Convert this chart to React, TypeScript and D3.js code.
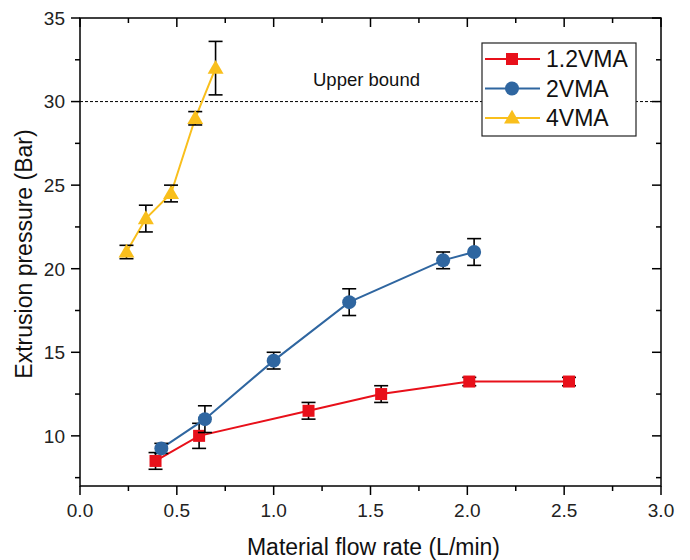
import React from 'react';
import * as d3 from 'd3';

// flow rate (L/min), pressure (Bar), error (±)
const flow12 = [0.39, 0.615, 1.18, 1.555, 2.01, 2.525];
const pres12 = [8.5, 10.0, 11.5, 12.5, 13.25, 13.25];
const err12 = [0.5, 0.75, 0.5, 0.5, 0.25, 0.25];

const flow2 = [0.42, 0.645, 1.0, 1.39, 1.875, 2.035];
const pres2 = [9.25, 11.0, 14.5, 18.0, 20.5, 21.0];
const err2 = [0.3, 0.8, 0.5, 0.8, 0.5, 0.8];

const flow4 = [0.24, 0.34, 0.47, 0.595, 0.7];
const pres4 = [21.0, 23.0, 24.5, 29.0, 32.0];
const err4 = [0.4, 0.8, 0.5, 0.4, 1.6];

const seriesNames = ['1.2VMA', '2VMA', '4VMA'];
const seriesColors = ['#e8101a', '#2f66a0', '#f9bf1c'];
const upperBound = 30;

const xTicks = [0, 0.5, 1.0, 1.5, 2.0, 2.5, 3.0];
const xMinor = [0.25, 0.75, 1.25, 1.75, 2.25, 2.75];
const yTicks = [10, 15, 20, 25, 30, 35];
const yMinor = [7.5, 12.5, 17.5, 22.5, 27.5, 32.5];

const W = 690, H = 560;
const m = { left: 80, right: 29, top: 18, bottom: 74 };
const font = 'Liberation Sans, Arial, sans-serif';

const App = () => {
  const x = d3.scaleLinear().domain([0, 3]).range([m.left, W - m.right]);
  const y = d3.scaleLinear().domain([7, 35]).range([H - m.bottom, m.top]);
  const x0 = m.left, x1 = W - m.right, y0 = H - m.bottom, y1 = m.top;

  const series = [
    { xs: flow12, ys: pres12, es: err12 },
    { xs: flow2, ys: pres2, es: err2 },
    { xs: flow4, ys: pres4, es: err4 },
  ];

  const line = d3.line<[number, number]>().x(d => x(d[0])).y(d => y(d[1]));

  const marker = (k: number, cx: number, cy: number, key: string) => {
    const c = seriesColors[k];
    if (k === 0) return <rect key={key} x={cx - 6} y={cy - 6} width={12} height={12} fill={c} />;
    if (k === 1) return <circle key={key} cx={cx} cy={cy} r={7} fill={c} />;
    const sym = d3.symbol().type(d3.symbolTriangle).size(110)();
    return <path key={key} d={sym || ''} transform={`translate(${cx},${cy + 1})`} fill={c} />;
  };

  return (
    <svg width={W} height={H} style={{ position: 'absolute', left: 0, top: 0, background: '#fff' }}>
      {/* upper bound */}
      <line x1={x0} x2={x1} y1={y(upperBound)} y2={y(upperBound)} stroke="#000" strokeWidth={1} strokeDasharray="3,2" />
      <text x={313} y={86} fontFamily={font} fontSize={18.5} fill="#111">Upper bound</text>

      {/* series */}
      {series.map((s, k) => (
        <g key={k}>
          <path d={line(s.xs.map((v, i) => [v, s.ys[i]] as [number, number])) || ''} fill="none" stroke={seriesColors[k]} strokeWidth={2} />
          {s.xs.map((v, i) => (
            <g key={i} stroke="#000" strokeWidth={1.6}>
              <line x1={x(v)} x2={x(v)} y1={y(s.ys[i] - s.es[i])} y2={y(s.ys[i] + s.es[i])} />
              <line x1={x(v) - 7} x2={x(v) + 7} y1={y(s.ys[i] - s.es[i])} y2={y(s.ys[i] - s.es[i])} />
              <line x1={x(v) - 7} x2={x(v) + 7} y1={y(s.ys[i] + s.es[i])} y2={y(s.ys[i] + s.es[i])} />
            </g>
          ))}
          {s.xs.map((v, i) => marker(k, x(v), y(s.ys[i]), `m${i}`))}
        </g>
      ))}

      {/* frame */}
      <rect x={x0} y={y1} width={x1 - x0} height={y0 - y1} fill="none" stroke="#000" strokeWidth={1.5} />

      {/* bottom axis */}
      {xTicks.map(t => (
        <g key={`xt${t}`}>
          <line x1={x(t)} x2={x(t)} y1={y0} y2={y0 + 9} stroke="#000" strokeWidth={1.5} />
          <line x1={x(t)} x2={x(t)} y1={y1} y2={y1 + 9} stroke="#000" strokeWidth={1.5} />
          <text x={x(t)} y={517} textAnchor="middle" fontFamily={font} fontSize={19} fill="#222">{t.toFixed(1)}</text>
        </g>
      ))}
      {xMinor.map(t => (
        <g key={`xm${t}`}>
          <line x1={x(t)} x2={x(t)} y1={y0} y2={y0 + 5} stroke="#000" strokeWidth={1.5} />
          <line x1={x(t)} x2={x(t)} y1={y1} y2={y1 + 5} stroke="#000" strokeWidth={1.5} />
        </g>
      ))}

      {/* left axis */}
      {yTicks.map(t => (
        <g key={`yt${t}`}>
          <line x1={x0 - 9} x2={x0} y1={y(t)} y2={y(t)} stroke="#000" strokeWidth={1.5} />
          <line x1={x1 - 9} x2={x1} y1={y(t)} y2={y(t)} stroke="#000" strokeWidth={1.5} />
          <text x={65} y={y(t)} dy="0.36em" textAnchor="end" fontFamily={font} fontSize={19} fill="#222">{t}</text>
        </g>
      ))}
      {yMinor.map(t => (
        <g key={`ym${t}`}>
          <line x1={x0 - 5} x2={x0} y1={y(t)} y2={y(t)} stroke="#000" strokeWidth={1.5} />
          <line x1={x1 - 5} x2={x1} y1={y(t)} y2={y(t)} stroke="#000" strokeWidth={1.5} />
        </g>
      ))}

      {/* axis titles */}
      <text x={(x0 + x1) / 2 + 3} y={555} textAnchor="middle" fontFamily={font} fontSize={23} fill="#111">Material flow rate (L/min)</text>
      <text transform={`translate(32,${(y0 + y1) / 2 + 2}) rotate(-90)`} textAnchor="middle" fontFamily={font} fontSize={23} fill="#111">Extrusion pressure (Bar)</text>

      {/* legend */}
      <g>
        <rect x={482} y={43} width={154} height={93} fill="#fff" stroke="#222" strokeWidth={1.2} />
        {seriesNames.map((n, k) => {
          const ly = 59 + k * 29.5;
          return (
            <g key={n}>
              <line x1={485} x2={540} y1={ly} y2={ly} stroke={seriesColors[k]} strokeWidth={2} />
              {marker(k, 512, ly, 'lm')}
              <text x={546} y={ly} dy="0.36em" fontFamily={font} fontSize={23} fill="#111">{n}</text>
            </g>
          );
        })}
      </g>
    </svg>
  );
};

export default App;
